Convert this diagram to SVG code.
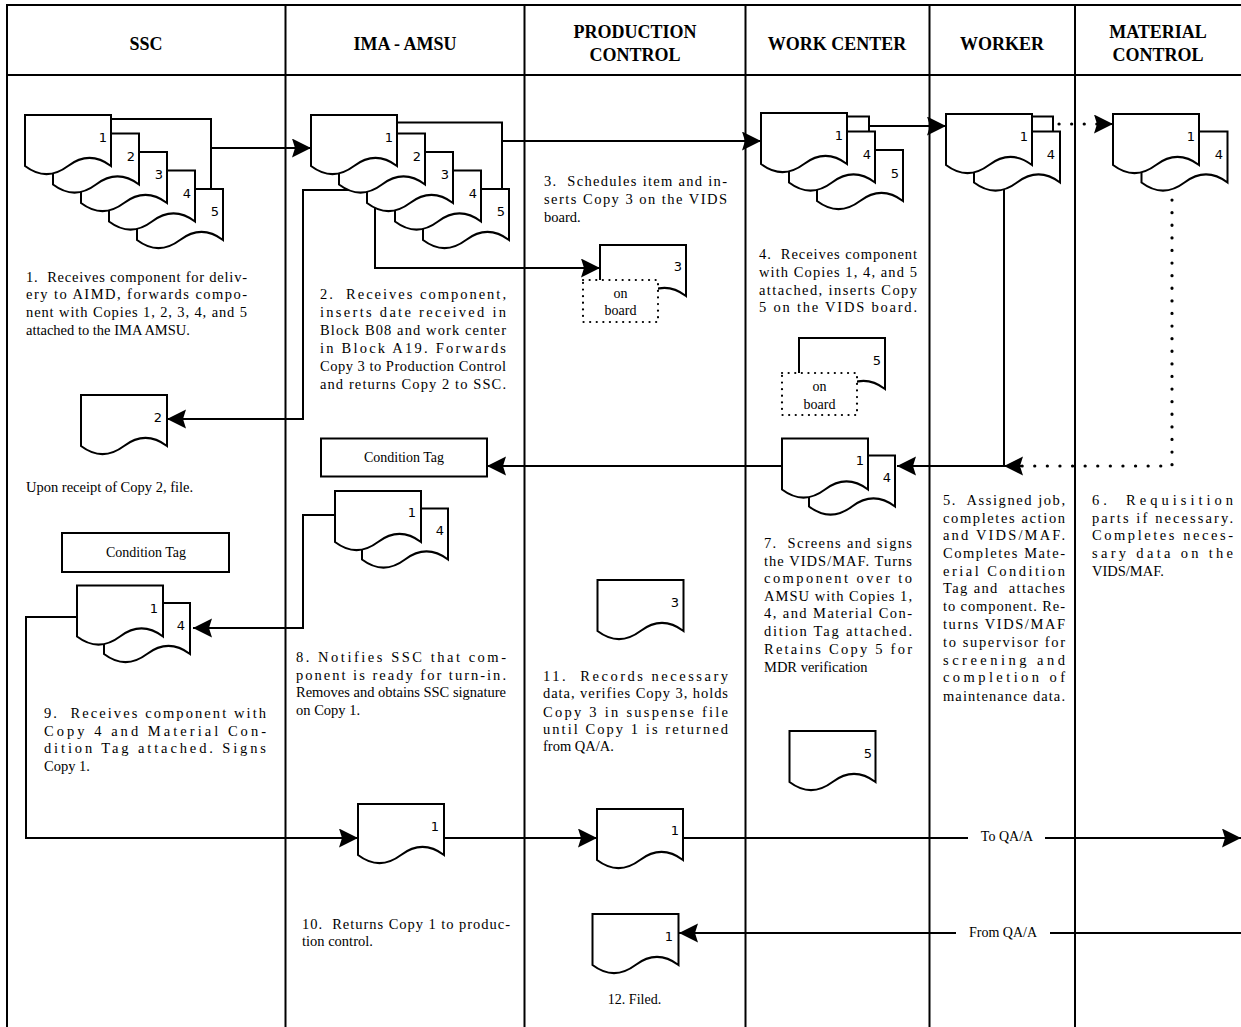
<svg xmlns="http://www.w3.org/2000/svg" xmlns:xlink="http://www.w3.org/1999/xlink" width="1241" height="1027" viewBox="0 0 1241 1027">
<style>
.frame{stroke:#000;stroke-width:2;fill:none}
.h{font-family:"Liberation Serif",serif;font-weight:bold;font-size:18px;text-anchor:middle;fill:#000}
.t{font-family:"Liberation Serif",serif;font-size:14.5px;fill:#000;white-space:pre}
.c{font-family:"Liberation Serif",serif;font-size:14px;fill:#000;text-anchor:middle}
.n{font-family:"DejaVu Sans",sans-serif;font-size:13px;fill:#000;text-anchor:middle}
.d{fill:#fff;stroke:#000;stroke-width:2}
.box{fill:#fff;stroke:#000;stroke-width:2}
.dotbox{fill:#fff;stroke:#000;stroke-width:2.2;stroke-linecap:round;stroke-dasharray:0.1 6.5}
.ln{fill:none;stroke:#000;stroke-width:2}
.dot{fill:none;stroke:#000;stroke-width:3.2;stroke-linecap:round;stroke-dasharray:0.1 12.5}
</style>
<defs>
<path id="doc" d="M0 0H86V51Q64.5 34.8 43 51Q21.5 67.2 0 51Z"/>
<marker id="ah" markerUnits="userSpaceOnUse" markerWidth="20" markerHeight="20" refX="19" refY="9.5" orient="auto">
<path d="M0 0L19 9.5L0 19L3 9.5Z" fill="#000"/>
</marker>
</defs>
<rect width="1241" height="1027" fill="#fff"/>
<g id="frame">
<line class="frame" x1="6" y1="5" x2="1241" y2="5"/>
<line class="frame" x1="6" y1="75" x2="1241" y2="75"/>
<line class="frame" x1="7" y1="5" x2="7" y2="1027"/>
<line class="frame" x1="285.5" y1="5" x2="285.5" y2="1027"/>
<line class="frame" x1="524.5" y1="5" x2="524.5" y2="1027"/>
<line class="frame" x1="745.5" y1="5" x2="745.5" y2="1027"/>
<line class="frame" x1="929.5" y1="5" x2="929.5" y2="1027"/>
<line class="frame" x1="1075" y1="5" x2="1075" y2="1027"/>
<text class="h" x="146" y="50">SSC</text>
<text class="h" x="405" y="50">IMA - AMSU</text>
<text class="h" x="635" y="38">PRODUCTION</text>
<text class="h" x="635" y="61">CONTROL</text>
<text class="h" x="837" y="50">WORK CENTER</text>
<text class="h" x="1002" y="50">WORKER</text>
<text class="h" x="1158" y="38">MATERIAL</text>
<text class="h" x="1158" y="61">CONTROL</text>
</g>
<g id="connectors">
<polyline class="ln" points="111,119 211,119 211,189"/>
<line class="ln" x1="211" y1="148" x2="311" y2="148" marker-end="url(#ah)"/>
<polyline class="ln" points="397,122.5 502,122.5 502,189"/>
<line class="ln" x1="502" y1="141" x2="761" y2="141" marker-end="url(#ah)"/>
<polyline class="ln" points="367,190 303,190 303,419 167,419" marker-end="url(#ah)"/>
<polyline class="ln" points="375,200 375,268 600,268" marker-end="url(#ah)"/>
<polyline class="ln" points="847,116.5 869,116.5 869,131.5"/>
<line class="ln" x1="869" y1="126" x2="946" y2="126" marker-end="url(#ah)"/>
<polyline class="ln" points="1032,116.5 1053,116.5 1053,131.5"/>
<line class="dot" x1="1059" y1="124" x2="1100" y2="124"/>
<line class="ln" x1="1100" y1="124" x2="1113" y2="124" stroke-width="0.1" marker-end="url(#ah)"/>
<polyline class="ln" points="1004,188 1004,466 897,466" marker-end="url(#ah)"/>
<polyline class="dot" points="1172,200 1172,466 1022,466"/>
<line class="ln" x1="1022" y1="466" x2="1004" y2="466" stroke-width="0.1" marker-end="url(#ah)"/>
<line class="ln" x1="782" y1="466" x2="487" y2="466" marker-end="url(#ah)"/>
<polyline class="ln" points="335,515 303,515 303,628 193,628" marker-end="url(#ah)"/>
<polyline class="ln" points="77,617 26,617 26,838 358,838" marker-end="url(#ah)"/>
<line class="ln" x1="443.5" y1="838" x2="597" y2="838" marker-end="url(#ah)"/>
<line class="ln" x1="683" y1="838" x2="968" y2="838"/>
<line class="ln" x1="1045" y1="838" x2="1241" y2="838" marker-end="url(#ah)"/>
<text class="c" x="1007" y="841">To QA/A</text>
<line class="ln" x1="1241" y1="933" x2="1050" y2="933"/>
<line class="ln" x1="956" y1="933" x2="679" y2="933" marker-end="url(#ah)"/>
<text class="c" x="1003" y="937">From QA/A</text>
</g>
<g id="ssc-stack">
<use href="#doc" class="d" x="137" y="189"/>
<use href="#doc" class="d" x="109" y="170.5"/>
<use href="#doc" class="d" x="81" y="152"/>
<use href="#doc" class="d" x="53" y="133.5"/>
<use href="#doc" class="d" x="25" y="115"/>
<text class="n" x="103" y="142">1</text>
<text class="n" x="131" y="160.5">2</text>
<text class="n" x="159" y="179">3</text>
<text class="n" x="187" y="197.5">4</text>
<text class="n" x="215" y="216">5</text>
</g>
<g id="step1">
<text class="t" x="26" y="282" textLength="221" lengthAdjust="spacing">1.  Receives component for deliv-</text>
<text class="t" x="26" y="299" textLength="221" lengthAdjust="spacing">ery to AIMD, forwards compo-</text>
<text class="t" x="26" y="317" textLength="221" lengthAdjust="spacing">nent with Copies 1, 2, 3, 4, and 5</text>
<text class="t" x="26" y="335">attached to the IMA AMSU.</text>
</g>
<g id="ssc-copy2">
<use href="#doc" class="d" x="81" y="395"/>
<text class="n" x="158" y="422">2</text>
<text class="t" x="26" y="492">Upon receipt of Copy 2, file.</text>
</g>
<g id="ssc-tag">
<rect class="box" x="62" y="533" width="167" height="39"/>
<text class="c" x="146" y="557">Condition Tag</text>
</g>
<g id="ssc-copies14">
<use href="#doc" class="d" x="104" y="603"/>
<use href="#doc" class="d" x="77" y="585.5"/>
<text class="n" x="154" y="613">1</text>
<text class="n" x="181" y="630">4</text>
</g>
<g id="step9">
<text class="t" x="44" y="718" textLength="222" lengthAdjust="spacing">9.  Receives component with</text>
<text class="t" x="44" y="736" textLength="222" lengthAdjust="spacing">Copy 4 and Material Con-</text>
<text class="t" x="44" y="753" textLength="222" lengthAdjust="spacing">dition Tag attached. Signs</text>
<text class="t" x="44" y="771">Copy 1.</text>
</g>
<g id="ima-stack">
<use href="#doc" class="d" x="423" y="189"/>
<use href="#doc" class="d" x="395" y="170.5"/>
<use href="#doc" class="d" x="367" y="152"/>
<use href="#doc" class="d" x="339" y="133.5"/>
<use href="#doc" class="d" x="311" y="115"/>
<text class="n" x="389" y="142">1</text>
<text class="n" x="417" y="160.5">2</text>
<text class="n" x="445" y="179">3</text>
<text class="n" x="473" y="197.5">4</text>
<text class="n" x="501" y="216">5</text>
</g>
<g id="step2">
<text class="t" x="320" y="299" textLength="186" lengthAdjust="spacing">2.  Receives component,</text>
<text class="t" x="320" y="317" textLength="186" lengthAdjust="spacing">inserts date received in</text>
<text class="t" x="320" y="335" textLength="186" lengthAdjust="spacing">Block B08 and work center</text>
<text class="t" x="320" y="353" textLength="186" lengthAdjust="spacing">in Block A19. Forwards</text>
<text class="t" x="320" y="371" textLength="186" lengthAdjust="spacing">Copy 3 to Production Control</text>
<text class="t" x="320" y="389" textLength="186" lengthAdjust="spacing">and returns Copy 2 to SSC.</text>
</g>
<g id="ima-tag">
<rect class="box" x="321" y="438.5" width="166" height="38"/>
<text class="c" x="404" y="462">Condition Tag</text>
</g>
<g id="ima-copies14">
<use href="#doc" class="d" x="362" y="508.5"/>
<use href="#doc" class="d" x="335" y="491"/>
<text class="n" x="412" y="517">1</text>
<text class="n" x="440" y="535">4</text>
</g>
<g id="step8">
<text class="t" x="296" y="662" textLength="210" lengthAdjust="spacing">8. Notifies SSC that com-</text>
<text class="t" x="296" y="680" textLength="210" lengthAdjust="spacing">ponent is ready for turn-in.</text>
<text class="t" x="296" y="697" textLength="210" lengthAdjust="spacing">Removes and obtains SSC signature</text>
<text class="t" x="296" y="715">on Copy 1.</text>
</g>
<g id="ima-copy1">
<use href="#doc" class="d" x="358" y="804"/>
<text class="n" x="435" y="831">1</text>
</g>
<g id="step10">
<text class="t" x="302" y="929" textLength="208" lengthAdjust="spacing">10.  Returns Copy 1 to produc-</text>
<text class="t" x="302" y="946">tion control.</text>
</g>
<g id="step3">
<text class="t" x="544" y="186" textLength="183" lengthAdjust="spacing">3.  Schedules item and in-</text>
<text class="t" x="544" y="204" textLength="183" lengthAdjust="spacing">serts Copy 3 on the VIDS</text>
<text class="t" x="544" y="222">board.</text>
</g>
<g id="pc-copy3-board">
<use href="#doc" class="d" x="600" y="245"/>
<text class="n" x="678" y="271">3</text>
<rect class="dotbox" x="583" y="280" width="75" height="42"/>
<text class="c" x="620.5" y="298">on</text>
<text class="c" x="620.5" y="315">board</text>
</g>
<g id="pc-copy3">
<use href="#doc" class="d" x="597.5" y="580"/>
<text class="n" x="675" y="607">3</text>
</g>
<g id="step11">
<text class="t" x="543" y="681" textLength="185" lengthAdjust="spacing">11.  Records necessary</text>
<text class="t" x="543" y="698" textLength="185" lengthAdjust="spacing">data, verifies Copy 3, holds</text>
<text class="t" x="543" y="717" textLength="185" lengthAdjust="spacing">Copy 3 in suspense file</text>
<text class="t" x="543" y="734" textLength="185" lengthAdjust="spacing">until Copy 1 is returned</text>
<text class="t" x="543" y="751">from QA/A.</text>
</g>
<g id="pc-copy1">
<use href="#doc" class="d" x="597" y="809"/>
<text class="n" x="675" y="835">1</text>
</g>
<g id="pc-filed">
<use href="#doc" class="d" x="592.5" y="914"/>
<text class="n" x="669" y="941">1</text>
<text class="c" x="634.5" y="1004">12. Filed.</text>
</g>
<g id="wc-stack">
<use href="#doc" class="d" x="817" y="150"/>
<use href="#doc" class="d" x="789" y="131.5"/>
<use href="#doc" class="d" x="761" y="113"/>
<text class="n" x="839" y="140">1</text>
<text class="n" x="867" y="159">4</text>
<text class="n" x="895" y="178">5</text>
</g>
<g id="step4">
<text class="t" x="759" y="259" textLength="158" lengthAdjust="spacing">4.  Receives component</text>
<text class="t" x="759" y="277" textLength="158" lengthAdjust="spacing">with Copies 1, 4, and 5</text>
<text class="t" x="759" y="295" textLength="158" lengthAdjust="spacing">attached, inserts Copy</text>
<text class="t" x="759" y="312" textLength="158" lengthAdjust="spacing">5 on the VIDS board.</text>
</g>
<g id="wc-copy5-board">
<use href="#doc" class="d" x="799" y="338"/>
<text class="n" x="877" y="365">5</text>
<rect class="dotbox" x="782" y="373" width="75" height="42"/>
<text class="c" x="819.5" y="391">on</text>
<text class="c" x="819.5" y="409">board</text>
</g>
<g id="wc-copies14">
<use href="#doc" class="d" x="809" y="455.5"/>
<use href="#doc" class="d" x="782" y="438.5"/>
<text class="n" x="860" y="465">1</text>
<text class="n" x="887" y="482">4</text>
</g>
<g id="step7">
<text class="t" x="764" y="548" textLength="148" lengthAdjust="spacing">7.  Screens and signs</text>
<text class="t" x="764" y="566" textLength="148" lengthAdjust="spacing">the VIDS/MAF. Turns</text>
<text class="t" x="764" y="583" textLength="148" lengthAdjust="spacing">component over to</text>
<text class="t" x="764" y="601" textLength="148" lengthAdjust="spacing">AMSU with Copies 1,</text>
<text class="t" x="764" y="618" textLength="148" lengthAdjust="spacing">4, and Material Con-</text>
<text class="t" x="764" y="636" textLength="148" lengthAdjust="spacing">dition Tag attached.</text>
<text class="t" x="764" y="654" textLength="148" lengthAdjust="spacing">Retains Copy 5 for</text>
<text class="t" x="764" y="672">MDR verification</text>
</g>
<g id="wc-copy5">
<use href="#doc" class="d" x="789.5" y="731"/>
<text class="n" x="868" y="758">5</text>
</g>
<g id="worker-stack">
<use href="#doc" class="d" x="974" y="131.5"/>
<use href="#doc" class="d" x="946" y="114"/>
<text class="n" x="1024" y="141">1</text>
<text class="n" x="1051" y="159">4</text>
</g>
<g id="step5">
<text class="t" x="943" y="505" textLength="122" lengthAdjust="spacing">5.  Assigned job,</text>
<text class="t" x="943" y="523" textLength="122" lengthAdjust="spacing">completes action</text>
<text class="t" x="943" y="540" textLength="122" lengthAdjust="spacing">and VIDS/MAF.</text>
<text class="t" x="943" y="558" textLength="122" lengthAdjust="spacing">Completes Mate-</text>
<text class="t" x="943" y="576" textLength="122" lengthAdjust="spacing">erial Condition</text>
<text class="t" x="943" y="593" textLength="122" lengthAdjust="spacing">Tag and  attaches</text>
<text class="t" x="943" y="611" textLength="122" lengthAdjust="spacing">to component. Re-</text>
<text class="t" x="943" y="629" textLength="122" lengthAdjust="spacing">turns VIDS/MAF</text>
<text class="t" x="943" y="647" textLength="122" lengthAdjust="spacing">to supervisor for</text>
<text class="t" x="943" y="665" textLength="122" lengthAdjust="spacing">screening and</text>
<text class="t" x="943" y="682" textLength="122" lengthAdjust="spacing">completion of</text>
<text class="t" x="943" y="701" textLength="122" lengthAdjust="spacing">maintenance data.</text>
</g>
<g id="mc-stack">
<use href="#doc" class="d" x="1141.5" y="131.5"/>
<use href="#doc" class="d" x="1113" y="114"/>
<text class="n" x="1191" y="141">1</text>
<text class="n" x="1219" y="159">4</text>
</g>
<g id="step6">
<text class="t" x="1092" y="505" textLength="141" lengthAdjust="spacing">6.  Requisition</text>
<text class="t" x="1092" y="523" textLength="141" lengthAdjust="spacing">parts if necessary.</text>
<text class="t" x="1092" y="540" textLength="141" lengthAdjust="spacing">Completes neces-</text>
<text class="t" x="1092" y="558" textLength="141" lengthAdjust="spacing">sary data on the</text>
<text class="t" x="1092" y="576">VIDS/MAF.</text>
</g>
</svg>
